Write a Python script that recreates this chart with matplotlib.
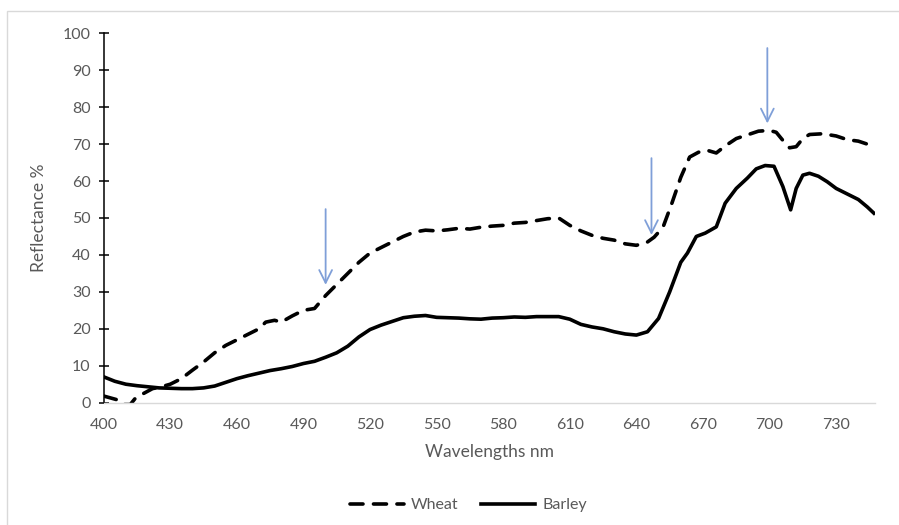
import matplotlib

matplotlib.use("Agg")

import matplotlib.pyplot as plt
from matplotlib.patches import Rectangle

plt.rcParams["font.family"] = ["Lato", "DejaVu Sans"]

# Barley reflectance (solid line)
barley_nm = [400, 405, 410, 415, 420, 425, 430, 435, 440, 445, 450, 455, 460, 465,
             470, 475, 480, 485, 490, 495, 500, 505, 510, 515, 520, 525, 530, 535,
             540, 545, 550, 555, 560, 565, 570, 575, 580, 585, 590, 595, 600, 605,
             610, 615, 620, 625, 630, 635, 640, 645, 650, 655, 660, 663, 667, 671,
             676, 680, 685, 690, 694, 698, 702, 706, 709.5, 712, 715, 718, 722, 726,
             730, 735, 740, 744, 747]
barley = [7.0, 5.8, 5.0, 4.6, 4.3, 4.0, 3.9, 3.8, 3.8, 4.0, 4.5, 5.5, 6.5, 7.3,
          8.0, 8.7, 9.2, 9.8, 10.6, 11.2, 12.3, 13.5, 15.3, 17.8, 19.8, 21.0, 22.0,
          23.0, 23.4, 23.6, 23.1, 23.0, 22.9, 22.7, 22.6, 22.9, 23.0, 23.2, 23.1,
          23.3, 23.3, 23.3, 22.6, 21.2, 20.5, 20.0, 19.2, 18.6, 18.3, 19.2, 22.8,
          30.0, 38.0, 40.5, 45.0, 45.9, 47.6, 54.0, 58.0, 60.8, 63.3, 64.2, 64.0,
          58.5, 52.2, 58.0, 61.6, 62.1, 61.3, 59.8, 58.0, 56.5, 55.0, 53.0, 51.3]

# Wheat reflectance (dashed line)
wheat_nm = [400, 403, 406, 408, 412, 414, 418, 422, 426, 430, 435, 440, 445, 450,
            455, 460, 465, 470, 473, 477, 480, 485, 490, 495, 500, 505, 510, 515,
            520, 525, 530, 535, 540, 545, 550, 555, 560, 565, 570, 575, 580, 585,
            590, 595, 600, 605, 610, 615, 620, 625, 630, 635, 640, 645, 648, 652,
            656, 660, 664, 668, 672, 676, 680, 685, 690, 695, 700, 703, 706, 709,
            712, 715, 718, 724, 730, 735, 740, 744, 747]
wheat = [1.8, 1.3, 0.8, -0.5, -0.5, 1.0, 2.5, 3.8, 4.3, 5.0, 6.5, 8.8, 11.0, 13.5,
         15.5, 17.0, 18.5, 20.0, 21.8, 22.3, 21.8, 23.5, 25.0, 25.5, 29.0, 32.0,
         35.0, 38.0, 40.5, 42.0, 43.5, 45.0, 46.2, 46.7, 46.5, 46.8, 47.2, 47.0,
         47.5, 47.8, 48.0, 48.6, 48.8, 49.3, 49.8, 50.0, 48.0, 46.5, 45.3, 44.5,
         44.0, 43.0, 42.6, 43.5, 44.8, 47.5, 54.0, 61.0, 66.5, 67.8, 68.3, 67.6,
         69.5, 71.5, 72.5, 73.5, 73.7, 73.2, 71.0, 69.0, 69.3, 71.5, 72.6, 72.8,
         72.2, 71.2, 70.8, 70.0, 68.8]

# Blue arrows: (x, y start, y tip)
arrow_x = [500, 646.8, 699]
arrow_top = [52.4, 66.2, 96.0]
arrow_tip = [31.9, 45.4, 75.6]

x_ticks = list(range(400, 731, 30))
y_ticks = list(range(0, 101, 10))

text_color = "#595959"

fig = plt.figure(figsize=(8.99, 5.25), dpi=100)
ax = fig.add_axes([0.1153, 0.233, 0.858, 0.7036])

ax.plot(wheat_nm, wheat, color="black", lw=2.6, linestyle=(0, (3.6, 2.9)),
        dash_capstyle="round", label="Wheat")
ax.plot(barley_nm, barley, color="black", lw=2.6, label="Barley")

for x, y0, y1 in zip(arrow_x, arrow_top, arrow_tip):
    ax.annotate(
        "",
        xy=(x, y1),
        xytext=(x, y0),
        arrowprops=dict(
            arrowstyle="->,head_length=0.4,head_width=0.2",
            color="#7f9fd8",
            lw=1.3,
            mutation_scale=23,
            shrinkA=0,
            shrinkB=0,
        ),
    )

ax.set_xlim(400, 747.5)
ax.set_ylim(0, 100)
ax.set_xticks(x_ticks)
ax.set_yticks(y_ticks)

for side in ["top", "right"]:
    ax.spines[side].set_visible(False)
ax.spines["left"].set_color("black")
ax.spines["left"].set_linewidth(1.1)
ax.spines["bottom"].set_color("#d9d9d9")
ax.spines["bottom"].set_linewidth(1.0)

ax.tick_params(axis="y", direction="inout", length=7, width=1.1, color="black",
               labelcolor=text_color, labelsize=11.5, pad=6)
ax.tick_params(axis="x", length=0, labelcolor=text_color, labelsize=11.5, pad=11)

ax.set_xlabel("Wavelengths nm", color=text_color, fontsize=12.5, labelpad=9)
ax.set_ylabel("Reflectance %", color=text_color, fontsize=12.5, labelpad=11)

ax.legend(
    loc="center",
    bbox_to_anchor=(0.521, 0.038),
    bbox_transform=fig.transFigure,
    ncol=2,
    frameon=False,
    fontsize=11.5,
    handlelength=3.4,
    handletextpad=0.45,
    columnspacing=1.4,
    labelcolor=text_color,
)

fig.patches.append(
    Rectangle((7 / 899, -0.1), 1.2, 1.1 - 11 / 525, transform=fig.transFigure,
              fill=False, edgecolor="#d9d9d9", lw=1.0)
)

fig.savefig("out.png", dpi=100)
plt.close(fig)
